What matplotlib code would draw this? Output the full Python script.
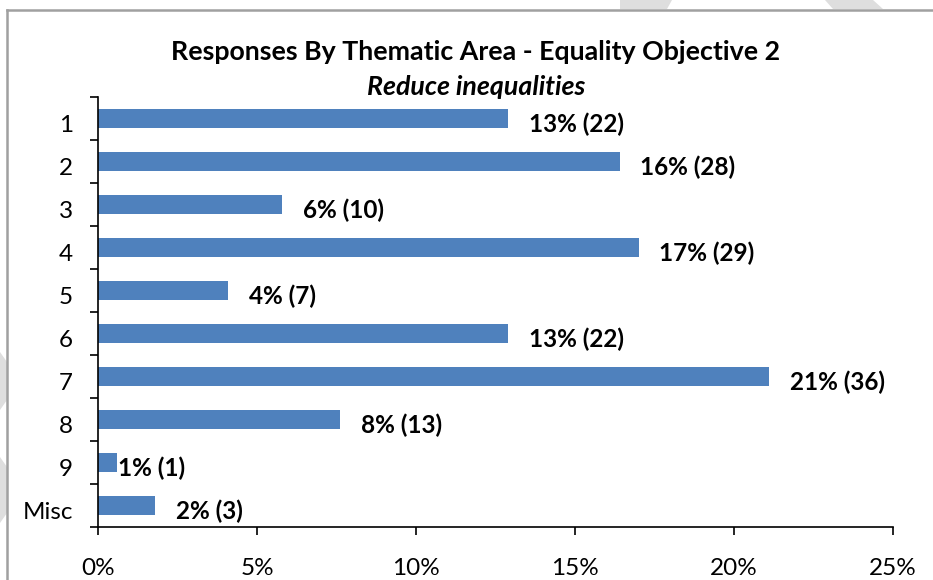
import matplotlib.pyplot as plt
import matplotlib.transforms as mtransforms
from matplotlib.lines import Line2D
from matplotlib.patches import Polygon

# Responses by thematic area, Equality Objective 2
categories = ['1', '2', '3', '4', '5', '6', '7', '8', '9', 'Misc']
percent = [12.9, 16.4, 5.8, 17.0, 4.1, 12.9, 21.1, 7.6, 0.6, 1.8]
counts = [22, 28, 10, 29, 7, 22, 36, 13, 1, 3]
x_ticks = [0, 5, 10, 15, 20, 25]

BAR_COLOR = '#4F81BD'
FONT = 'Lato'

W, H = 933, 580
fig = plt.figure(figsize=(W / 100, H / 100), dpi=100)
fig.patch.set_facecolor('white')

# faint page marks outside the chart frame
marks = [
    [(620, 0), (672, 0), (667, 9), (620, 9)],
    [(825, 0), (873, 0), (883, 9), (833, 9)],
    [(0, 352), (7, 362), (7, 400), (0, 410)],
    [(0, 457), (7, 467), (7, 513), (0, 523)],
]
for pts in marks:
    fig.add_artist(Polygon([(x / W, 1 - y / H) for x, y in pts], closed=True,
                           transform=fig.transFigure, facecolor='#dedede',
                           edgecolor='none', zorder=0))

# chart frame (top and left edges visible)
fx, fy = 7 / W, 1 - 10 / H
fig.add_artist(Line2D([fx, 1], [fy, fy], transform=fig.transFigure,
                      color='#a0a0a0', lw=1.8))
fig.add_artist(Line2D([fx, fx], [0, fy], transform=fig.transFigure,
                      color='#a0a0a0', lw=1.8))

ax = fig.add_axes([98 / W, 1 - 527 / H, (893 - 98) / W, (527 - 97) / H])
ypos = list(range(len(categories)))
ax.barh(ypos, percent, height=0.42, color=BAR_COLOR)

for y, p, c in zip(ypos, percent, counts):
    dx = 1 if p < 1 else 15
    ax.annotate(f"{round(p)}% ({c})", xy=(p, y), xytext=(dx, -4.5),
                textcoords='offset points', va='center', ha='left',
                fontsize=17.5, fontweight='bold', family=FONT)

ax.set_xlim(0, 25)
ax.set_ylim(len(categories) - 0.5, -0.5)
ax.set_xticks(x_ticks)
ax.set_xticklabels([f"{t}%" for t in x_ticks], family=FONT, fontsize=17.5)
ax.set_yticks(ypos)
ax.set_yticklabels(categories, family=FONT, fontsize=17.5)
ax.set_yticks([i - 0.5 for i in range(len(categories) + 1)], minor=True)

ax.tick_params(axis='x', direction='out', length=5.5, width=1.2, pad=17)
ax.tick_params(axis='y', which='major', length=0, pad=18)
ax.tick_params(axis='y', which='minor', direction='out', length=5.5, width=1.2)

# category labels sit a little below the bar centre, as in the original
shift = mtransforms.ScaledTranslation(0, -5 / 100, fig.dpi_scale_trans)
for lbl in ax.get_yticklabels():
    lbl.set_transform(lbl.get_transform() + shift)

for side in ['top', 'right']:
    ax.spines[side].set_visible(False)
for side in ['left', 'bottom']:
    ax.spines[side].set_linewidth(1.2)

fig.text(476 / W, 1 - 52 / H, "Responses By Thematic Area - Equality Objective 2",
         ha='center', va='center', fontsize=19.3, fontweight='bold', family=FONT)
fig.text(476 / W, 1 - 87 / H, "Reduce inequalities", ha='center', va='center',
         fontsize=19.3, fontweight='bold', style='italic', family=FONT)

fig.savefig('out.png', dpi=100)
